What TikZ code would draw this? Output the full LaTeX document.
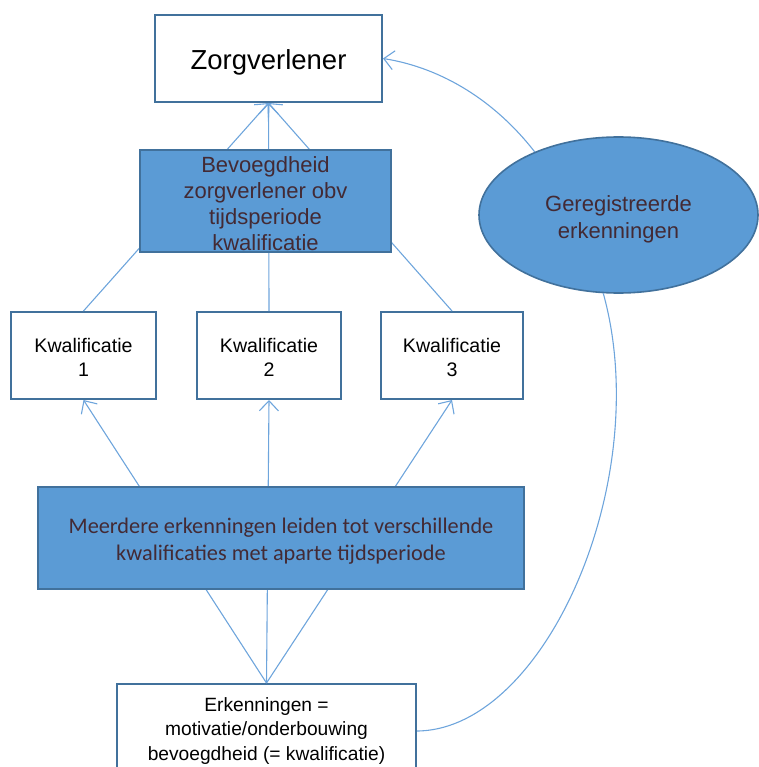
\documentclass[tikz,border=0pt]{standalone}
\usepackage{fontspec}
\setmainfont{Liberation Sans}
\newfontfamily\calibri{Carlito}
\usetikzlibrary{arrows.meta,shapes.geometric}
\definecolor{boxfill}{RGB}{91,155,213}
\definecolor{boxline}{RGB}{65,113,156}
\definecolor{connline}{RGB}{110,165,220}
\definecolor{maroon}{RGB}{67,42,52}
\newcommand\myup[1]{\rule{0pt}{#1pt}}
\tikzset{
  whitebox/.style={draw=boxline, line width=2pt, fill=white, rectangle, inner sep=0pt, align=center, text=black},
  bluebox/.style={draw=boxline, line width=1.6pt, fill=boxfill, rectangle, inner sep=0pt, align=center, text=maroon},
  blueoval/.style={draw=boxline, line width=1.6pt, fill=boxfill, ellipse, inner sep=0pt, align=center, text=maroon},
  conn/.style={draw=connline, line width=1.1pt},
  arr/.style={conn, -{Straight Barb[length=10pt,width=19pt,line width=1.1pt]}},
}
\begin{document}
\begin{tikzpicture}[x=1pt,y=-1pt]
\useasboundingbox (0,0) rectangle (758,767);
% white boxes
\node[whitebox, minimum width=227pt, minimum height=87pt, font=\fontsize{27.5}{32}\selectfont] (zorg) at (268.5,58.5)
  {\myup{27}Zorgverlener};
\node[whitebox, minimum width=145pt, minimum height=87pt, font=\fontsize{19.6}{24}\selectfont] (k1) at (83.5,355.5)
  {\myup{18.5}Kwalificatie\\1};
\node[whitebox, minimum width=144pt, minimum height=87pt, font=\fontsize{19.6}{24}\selectfont] (k2) at (269,355.5)
  {\myup{18.5}Kwalificatie\\2};
\node[whitebox, minimum width=142pt, minimum height=87pt, font=\fontsize{19.6}{24}\selectfont] (k3) at (452,355.5)
  {\myup{18.5}Kwalificatie\\3};
\node[whitebox, minimum width=299pt, minimum height=94pt, font=\fontsize{19.2}{24.3}\selectfont] (erk) at (266.5,731)
  {Erkenningen =\\motivatie/onderbouwing\\bevoegdheid (= kwalificatie)};
\node[blueoval, minimum width=279pt, minimum height=156pt, font=\fontsize{22}{27}\selectfont] (geo) at (618.5,215)
  {\myup{24}Geregistreerde\\erkenningen};
% connectors behind the blue boxes
\draw[arr] (k1.north) -- (zorg.south);
\draw[arr] (k2.north) -- (zorg.south);
\draw[arr] (k3.north) -- (zorg.south);
\draw[arr] (erk.north) -- (k1.south);
\draw[arr] (erk.north) -- (k2.south);
\draw[arr] (erk.north) -- (k3.south);
% blue boxes on top
\node[bluebox, minimum width=251pt, minimum height=102pt, font=\fontsize{22}{26}\selectfont] (bev) at (265.5,201)
  {\myup{21}Bevoegdheid\\zorgverlener obv\\tijdsperiode\\kwalificatie};
\node[bluebox, minimum width=486pt, minimum height=102pt, font=\calibri\fontsize{22.3}{27}\selectfont] (meer) at (281,538)
  {\myup{22}Meerdere erkenningen leiden tot verschillende\\kwalificaties met aparte tijdsperiode};
% curved connectors
\draw[conn] (erk.east) .. controls (545,730) and (655,480) .. (geo.-101);
\draw[arr] (geo.143) .. controls (496,102) and (443,68) .. (zorg.east);
\end{tikzpicture}
\end{document}
